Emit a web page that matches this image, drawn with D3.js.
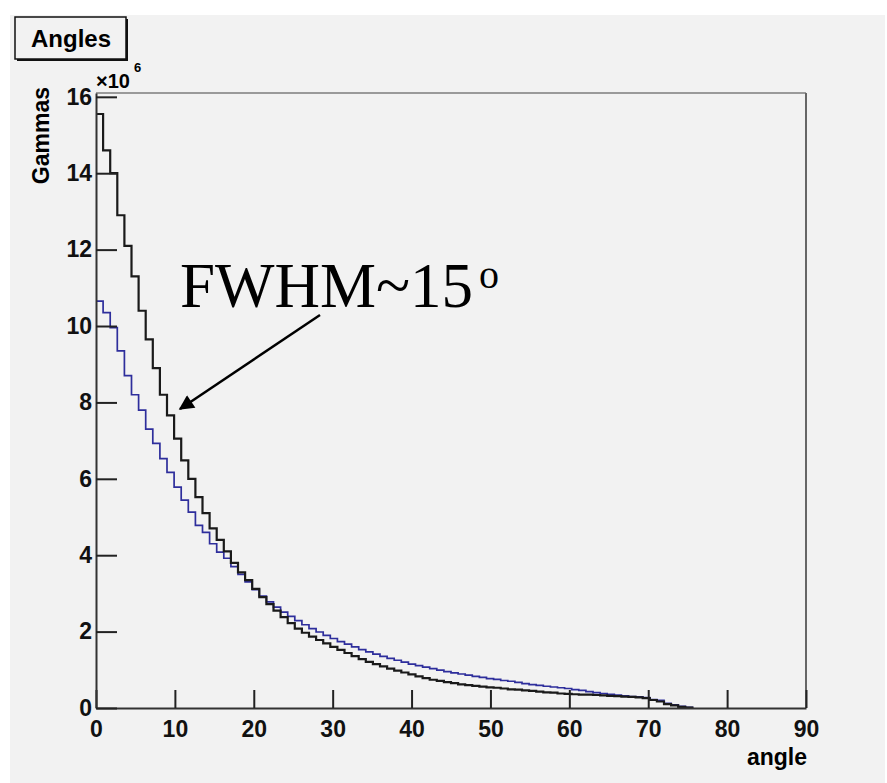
<!DOCTYPE html>
<html>
<head>
<meta charset="utf-8">
<script src="https://d3js.org/d3.v7.min.js"></script>
<style>
  body { margin: 0; background: #fff; }
  text { font-family: "Liberation Sans", Arial, sans-serif; font-weight: bold; }
</style>
</head>
<body>
<script>
// histogram settings: 100 bins from 0 to 90 degrees
var xMin = 0, xMax = 90, binWidth = 0.9;

// bin contents (x10^6), first bins only, everything after is empty
var blackCounts = [15.55,14.6,14.0,12.9,12.1,11.3,10.4,9.65,8.9,8.2,
  7.66,7.05,6.48,6.0,5.52,5.1,4.7,4.4,4.1,3.8,
  3.55,3.35,3.12,2.9,2.72,2.55,2.38,2.22,2.08,1.97,
  1.87,1.78,1.69,1.6,1.52,1.44,1.36,1.28,1.21,1.15,
  1.09,1.03,0.98,0.93,0.88,0.83,0.78,0.74,0.71,0.68,
  0.65,0.62,0.6,0.58,0.56,0.54,0.53,0.51,0.49,0.48,
  0.46,0.45,0.43,0.41,0.4,0.38,0.37,0.36,0.35,0.35,
  0.34,0.33,0.32,0.31,0.3,0.29,0.28,0.26,0.21,0.17,
  0.1,0.07,0.03,0.01];

var blueCounts = [10.65,10.35,9.96,9.35,8.7,8.2,7.8,7.3,6.93,6.53,
  6.17,5.78,5.44,5.13,4.78,4.6,4.3,4.08,3.92,3.7,
  3.5,3.3,3.1,2.93,2.78,2.64,2.51,2.4,2.29,2.18,
  2.08,1.99,1.9,1.82,1.74,1.67,1.6,1.53,1.47,1.41,
  1.35,1.3,1.25,1.2,1.15,1.11,1.07,1.03,0.99,0.95,
  0.92,0.89,0.86,0.83,0.8,0.77,0.75,0.72,0.7,0.67,
  0.64,0.61,0.59,0.57,0.55,0.53,0.51,0.48,0.46,0.43,
  0.4,0.38,0.36,0.34,0.32,0.3,0.29,0.27,0.22,0.2,
  0.12,0.08,0.04,0.02];

var xMajor = [0,10,20,30,40,50,60,70,80,90];
var yMajor = [0,2,4,6,8,10,12,14,16];

var width = 887, height = 783;
var svg = d3.select("body").append("svg")
  .attr("width", width)
  .attr("height", height);

// canvas grey
svg.append("rect").attr("x", 10).attr("y", 15)
  .attr("width", 875).attr("height", 768).attr("fill", "#f2f2f2");

var x = d3.scaleLinear().domain([xMin, xMax]).range([96, 806]);
var y = d3.scaleLinear().domain([0, 16.1]).range([708, 93]);

// frame
svg.append("line").attr("x1", 96).attr("x2", 806).attr("y1", 93).attr("y2", 93)
  .attr("stroke", "#9a9a9a").attr("stroke-width", 2);
svg.append("line").attr("x1", 806).attr("x2", 806).attr("y1", 93).attr("y2", 708)
  .attr("stroke", "#666").attr("stroke-width", 2);

// histograms as steps
function stepPath(counts) {
  var pts = counts.map(function (v, i) { return [xMin + i * binWidth, v]; });
  pts.push([xMin + counts.length * binWidth, 0]);
  return d3.line()
    .x(function (d) { return x(d[0]); })
    .y(function (d) { return y(d[1]); })
    .curve(d3.curveStepAfter)(pts);
}
svg.append("path").attr("d", stepPath(blueCounts))
  .attr("fill", "none").attr("stroke", "#2e2e9c").attr("stroke-width", 1.7);
svg.append("path").attr("d", stepPath(blackCounts))
  .attr("fill", "none").attr("stroke", "#1a1a1a").attr("stroke-width", 2.2);

// x axis, ticks pointing inward
var gx = svg.append("g").attr("transform", "translate(0,708)");
gx.call(d3.axisBottom(x).tickValues(d3.range(0, 91, 2)).tickSize(-9).tickFormat(""));
gx.call(d3.axisBottom(x).tickValues(xMajor).tickSize(-18).tickPadding(13).tickSizeOuter(0));
gx.selectAll("text").attr("font-size", 23).attr("fill", "#111");

// y axis
var gy = svg.append("g").attr("transform", "translate(96,0)");
gy.call(d3.axisLeft(y).tickValues(d3.range(0, 16.01, 0.5)).tickSize(-11).tickFormat(""));
gy.call(d3.axisLeft(y).tickValues(yMajor).tickSize(-21).tickPadding(4).tickSizeOuter(0));
gy.selectAll("text").attr("font-size", 23).attr("fill", "#111");

svg.selectAll(".domain").attr("stroke", "#333").attr("stroke-width", 2);
svg.selectAll(".tick line").attr("stroke", "#222").attr("stroke-width", 2);

// exponent label
svg.append("text").attr("x", 96).attr("y", 88).attr("font-size", 20).text("\u00d710");
svg.append("text").attr("x", 134).attr("y", 72).attr("font-size", 13).text("6");

// axis titles
svg.append("text").attr("transform", "translate(49,87) rotate(-90)")
  .attr("text-anchor", "end").attr("font-size", 23).text("Gammas");
svg.append("text").attr("x", 807).attr("y", 765)
  .attr("text-anchor", "end").attr("font-size", 23).text("angle");

// title box
svg.append("rect").attr("x", 15).attr("y", 17).attr("width", 111).attr("height", 42)
  .attr("fill", "#f2f2f2").attr("stroke", "#111").attr("stroke-width", 1.5);
svg.append("path").attr("d", "M17,60H127V19")
  .attr("fill", "none").attr("stroke", "#111").attr("stroke-width", 2);
svg.append("text").attr("x", 71).attr("y", 47).attr("text-anchor", "middle")
  .attr("font-size", 24).text("Angles");

// annotation
var ann = svg.append("text").attr("x", 180).attr("y", 307)
  .style("font-family", "'Liberation Serif', 'Times New Roman', serif")
  .style("font-weight", "normal").attr("font-size", 63).attr("fill", "#000");
ann.append("tspan").text("FWHM~15");
ann.append("tspan").attr("dx", 6).attr("dy", -19).attr("font-size", 40).text("o");

svg.append("defs").append("marker").attr("id", "head")
  .attr("viewBox", "0 0 10 10").attr("refX", 9).attr("refY", 5)
  .attr("markerWidth", 7).attr("markerHeight", 6).attr("orient", "auto")
  .attr("markerUnits", "strokeWidth")
  .append("path").attr("d", "M0,0L10,5L0,10z").attr("fill", "#000");
svg.append("line").attr("x1", 320).attr("y1", 315).attr("x2", 180).attr("y2", 409)
  .attr("stroke", "#000").attr("stroke-width", 2.5).attr("marker-end", "url(#head)");
</script>
</body>
</html>
